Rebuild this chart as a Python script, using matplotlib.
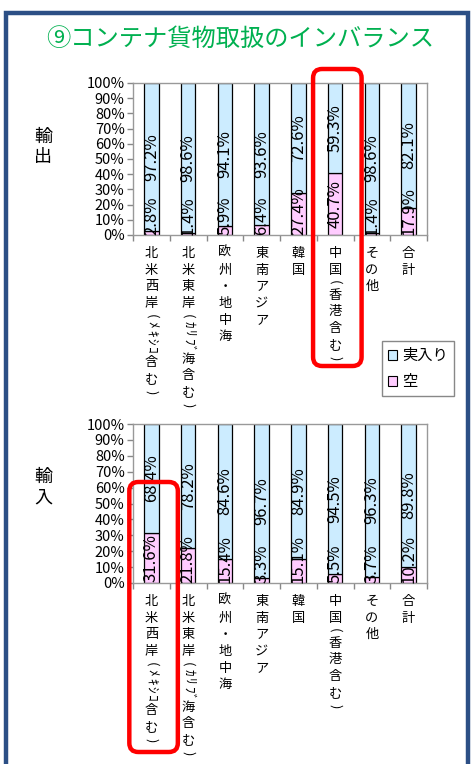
import matplotlib
matplotlib.use('Agg')
import matplotlib.pyplot as plt
import numpy as np
from matplotlib.patches import Rectangle, FancyBboxPatch, Patch
from matplotlib.transforms import IdentityTransform

plt.rcParams['font.family'] = ['Noto Sans CJK JP', 'DejaVu Sans']

# データ
categories = ['北米西岸(ﾒｷｼｺ含む)', '北米東岸(ｶﾘﾌﾞ海含む)', '欧州・地中海', '東南アジア',
              '韓国', '中国(香港含む)', 'その他', '合計']
export_empty = [2.8, 1.4, 5.9, 6.4, 27.4, 40.7, 1.4, 17.9]
export_full = [97.2, 98.6, 94.1, 93.6, 72.6, 59.3, 98.6, 82.1]
import_empty = [31.6, 21.8, 15.4, 3.3, 15.1, 5.5, 3.7, 10.2]
import_full = [68.4, 78.2, 84.6, 96.7, 84.9, 94.5, 96.3, 89.8]

c_full = '#CCECFF'
c_empty = '#FFCCFF'
W, H = 472, 764

fig = plt.figure(figsize=(W / 100, H / 100), dpi=100)

# 外枠
fig.patches.append(Rectangle((6 / W, -0.05), 462 / W, 1.05 - 13 / H, transform=fig.transFigure,
                             fill=False, edgecolor='#2c4f85', linewidth=3.2))
fig.text(240 / W, 1 - 39 / H, '⑨コンテナ貨物取扱のインバランス', color='#00B050',
         fontsize=17.5, ha='center', va='center')


def vertical_label(ax, x, s):
    # 縦書き（半角文字は横倒し）
    cursor = 10
    for ch in s:
        rot = ch in '()ﾒｷｼｺｶﾘﾌﾞ'
        adv = 8.5 if rot else 16.7
        if ch == 'ﾞ':
            adv = 5
        center = cursor + adv / 2
        cursor += adv
        ax.annotate(ch, xy=(x, 0), xycoords=ax.get_xaxis_transform(),
                    xytext=(0, -center * 0.72), textcoords='offset points',
                    ha='center', va='center', rotation=-90 if rot else 0,
                    fontsize=9.5, annotation_clip=False)


def draw_chart(ax, empty, full):
    x = np.arange(len(categories))
    ax.bar(x, empty, width=0.4, color=c_empty, edgecolor='black', linewidth=0.9, label='空')
    ax.bar(x, full, width=0.4, bottom=empty, color=c_full, edgecolor='black', linewidth=0.9,
           label='実入り')
    ax.set_xlim(-0.5, len(categories) - 0.5)
    ax.set_ylim(0, 100)
    ax.set_yticks(np.arange(0, 101, 10))
    ax.set_yticklabels(['%d%%' % v for v in range(0, 101, 10)], fontsize=10.5)
    ax.set_xticks(np.arange(-0.5, len(categories), 1))
    ax.set_xticklabels([])
    ax.tick_params(axis='both', color='#888888', length=4, width=1, pad=2)
    for sp in ax.spines.values():
        sp.set_color('#999999')
        sp.set_linewidth(1)
    for i, c in enumerate(categories):
        vertical_label(ax, i, c)
    texts = []
    for i in range(len(categories)):
        t1 = ax.text(i, empty[i] / 2, '%.1f%%' % empty[i], rotation=90, ha='center',
                     va='center', fontsize=12)
        ax.text(i, empty[i] + full[i] / 2, '%.1f%%' % full[i], rotation=90, ha='center',
                va='center', fontsize=12)
        texts.append(t1)
    return texts


ax1 = fig.add_axes([133 / W, 1 - 235 / H, 294 / W, 152 / H])
ax2 = fig.add_axes([133 / W, 1 - 583 / H, 294 / W, 159 / H])
t1 = draw_chart(ax1, export_empty, export_full)
t2 = draw_chart(ax2, import_empty, import_full)

# 下端からはみ出すラベルを軸内に寄せる
fig.canvas.draw()
r = fig.canvas.get_renderer()
for ax, texts in ((ax1, t1), (ax2, t2)):
    y0 = ax.get_window_extent().y0
    for t in texts:
        bb = t.get_window_extent(r)
        if bb.y0 < y0:
            xd, yd = ax.transData.transform(t.get_position())
            t.set_position(ax.transData.inverted().transform((xd, yd + (y0 - bb.y0))))

fig.text(43 / W, 1 - 147 / H, '輸\n出', fontsize=13, ha='center', va='center', linespacing=1.2)
fig.text(43 / W, 1 - 487 / H, '輸\n入', fontsize=13, ha='center', va='center', linespacing=1.2)

handles = [Patch(facecolor=c_full, edgecolor='black', linewidth=0.8, label='実入り'),
           Patch(facecolor=c_empty, edgecolor='black', linewidth=0.8, label='空')]
leg = fig.legend(handles=handles, loc='upper left', bbox_to_anchor=(382 / W, 1 - 341 / H),
                 fontsize=11, handlelength=0.6, handleheight=0.6, handletextpad=0.3,
                 labelspacing=0.6, borderpad=0.4, borderaxespad=0, fancybox=False,
                 framealpha=1)
leg.get_frame().set_edgecolor('#888888')


def red_box(ax, cat, y_top_px, y_bot_px):
    # 強調枠（画素座標）
    xl = ax.transData.transform((cat - 0.6, 0))[0]
    xr = ax.transData.transform((cat + 0.72, 0))[0]
    yt = H - y_top_px
    yb = H - y_bot_px
    fig.patches.append(FancyBboxPatch((xl, yb), xr - xl, yt - yb,
                                      boxstyle='round,pad=0,rounding_size=9',
                                      transform=IdentityTransform(), fill=False,
                                      edgecolor='#FF0000', linewidth=3.2))


red_box(ax1, 5, 69, 366)
red_box(ax2, 0, 482, 752)

fig.savefig('out.png', dpi=100)
